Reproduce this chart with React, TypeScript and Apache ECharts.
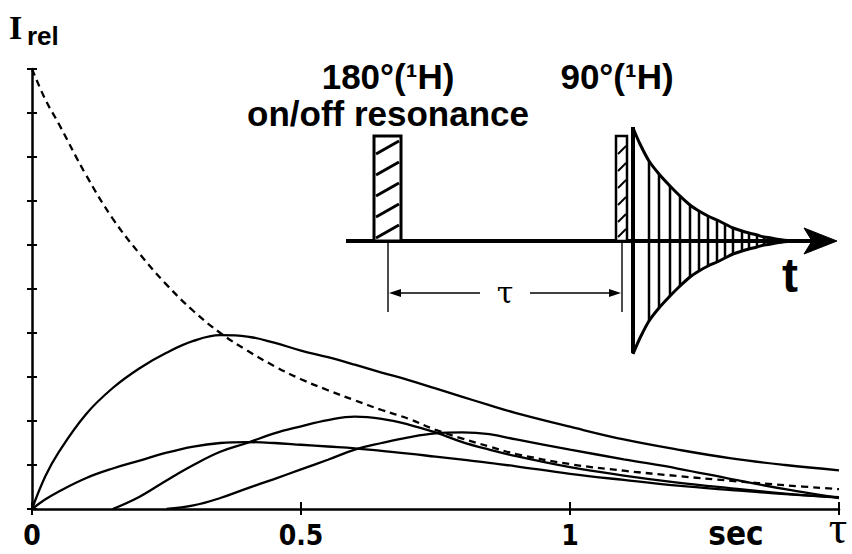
import React, { useEffect, useRef } from 'react';
import * as echarts from 'echarts';

// relaxation delay tau (sec)
const tauSec = [0, 0.025, 0.05, 0.1, 0.15, 0.2, 0.25, 0.3, 0.35, 0.4, 0.45, 0.5, 0.55, 0.6, 0.65, 0.7, 0.75, 0.8, 0.85, 0.9, 1.0, 1.1, 1.2, 1.3, 1.4, 1.5];
// dashed decay curve
const decayDashed = [10, 9.3, 8.75, 7.6, 6.6, 5.8, 5.1, 4.5, 4.0, 3.6, 3.25, 2.95, 2.7, 2.47, 2.25, 2.05, 1.8, 1.6, 1.42, 1.25, 1.02, 0.87, 0.75, 0.64, 0.54, 0.45];
// solid curves
const curveA = [0, 0.75, 1.3, 2.15, 2.75, 3.2, 3.55, 3.82, 3.95, 3.92, 3.78, 3.6, 3.45, 3.28, 3.1, 2.93, 2.74, 2.55, 2.36, 2.18, 1.87, 1.58, 1.35, 1.15, 1.0, 0.88];
const curveB = [0, 0.22, 0.4, 0.7, 0.92, 1.1, 1.28, 1.42, 1.5, 1.52, 1.5, 1.46, 1.42, 1.38, 1.32, 1.26, 1.19, 1.12, 1.05, 0.97, 0.8, 0.66, 0.53, 0.43, 0.34, 0.27];
const curveC = [null, null, null, null, 0, 0.28, 0.65, 1.0, 1.3, 1.5, 1.72, 1.88, 2.02, 2.1, 2.05, 1.92, 1.74, 1.52, 1.35, 1.2, 0.95, 0.76, 0.6, 0.47, 0.35, 0.26];
const curveD = [null, null, null, null, null, null, 0, 0.08, 0.25, 0.47, 0.68, 0.9, 1.12, 1.35, 1.5, 1.63, 1.72, 1.74, 1.7, 1.58, 1.35, 1.13, 0.92, 0.68, 0.45, 0.25];

const xTickLabels: Record<string, string> = { '0': '0', '0.5': '0.5', '1': '1', '1.5': '' };

const pairs = (vals: (number | null)[]) =>
  tauSec.map((t, i) => [t, vals[i]]).filter((p) => p[1] !== null);

const BLACK = '#000';
const ln = (x1: number, y1: number, x2: number, y2: number, w: number) => ({
  type: 'line',
  silent: true,
  shape: { x1, y1, x2, y2 },
  style: { stroke: BLACK, lineWidth: w },
});
const txt = (x: number, y: number, text: string, fontSize: number, fontFamily: string, fontWeight: string, align = 'center') => ({
  type: 'text',
  silent: true,
  x,
  y,
  style: { text, fontSize, fontFamily, fontWeight, fill: BLACK, align, verticalAlign: 'middle' },
});

function buildGraphic() {
  const g: any[] = [];
  const base = 241;
  // axis title I_rel
  g.push(txt(9, 27, 'I', 34, 'Liberation Serif', 'bold', 'left'));
  g.push(txt(27, 36, 'rel', 26, 'Liberation Sans', 'bold', 'left'));
  // x axis end texts
  g.push(txt(736, 533, 'sec', 33, "'Liberation Sans Narrow', 'DejaVu Sans Condensed', sans-serif", 'bold'));
  g.push(txt(838, 527, 'τ', 46, 'Liberation Serif', 'normal'));

  // pulse sequence texts
  g.push(txt(388, 76, '180°(¹H)', 35, 'Liberation Sans', 'bold'));
  g.push(txt(388, 113, 'on/off resonance', 35, 'Liberation Sans', 'bold'));
  g.push(txt(617, 76, '90°(¹H)', 35, 'Liberation Sans', 'bold'));
  g.push(txt(790, 275, 't', 48, 'Liberation Sans', 'bold'));

  // baseline + arrow head
  g.push(ln(346, base, 812, base, 4));
  g.push({
    type: 'polygon',
    silent: true,
    shape: { points: [[837, base], [804, base - 13], [812, base], [804, base + 13]] },
    style: { fill: BLACK, stroke: BLACK, lineWidth: 1 },
  });

  // 180 pulse
  g.push({ type: 'rect', silent: true, shape: { x: 374, y: 136, width: 27, height: base - 136 }, style: { fill: '#fff', stroke: BLACK, lineWidth: 3 } });
  for (let i = 0; i < 5; i++) {
    const y0 = 141 + 21 * i;
    g.push(ln(376, y0 + 13, 399, y0, 3));
  }
  // 90 pulse
  g.push({ type: 'rect', silent: true, shape: { x: 616, y: 136, width: 11, height: base - 136 }, style: { fill: '#fff', stroke: BLACK, lineWidth: 2.5 } });
  [146, 163, 180, 197, 214, 229].forEach((y0) => g.push(ln(618, y0 + 8, 626, y0, 2)));

  // FID
  const fid: [number, number][] = [
    [633, 113], [640, 97], [649, 80], [659, 67], [670, 55], [680, 45], [690, 36], [699, 30], [708, 25],
    [717, 21], [725, 17], [733, 13], [742, 10], [749, 8], [757, 6], [764, 4], [771, 3], [779, 1.5], [792, 0],
  ];
  fid.slice(2, 18).forEach(([x, a]) => g.push(ln(x, base - a, x, base + a, 2.5)));
  g.push(ln(633, base - 114, 633, base + 112, 4));
  g.push({ type: 'polyline', silent: true, shape: { points: fid.map(([x, a]) => [x, base - a]), smooth: 0.3 }, style: { stroke: BLACK, lineWidth: 3, fill: null } });
  g.push({ type: 'polyline', silent: true, shape: { points: fid.map(([x, a]) => [x, base + a]), smooth: 0.3 }, style: { stroke: BLACK, lineWidth: 3, fill: null } });

  // tau marker
  g.push(ln(388, base + 2, 388, 312, 1.4));
  g.push(ln(622, base + 2, 622, 312, 1.4));
  g.push(ln(392, 293, 480, 293, 1.4));
  g.push(ln(530, 293, 618, 293, 1.4));
  g.push({ type: 'polygon', silent: true, shape: { points: [[389, 293], [401, 289], [401, 297]] }, style: { fill: BLACK } });
  g.push({ type: 'polygon', silent: true, shape: { points: [[621, 293], [609, 289], [609, 297]] }, style: { fill: BLACK } });
  g.push(txt(505, 292, 'τ', 30, 'DejaVu Serif', 'normal'));
  return g;
}

export default function App() {
  const ref = useRef<HTMLDivElement>(null);
  useEffect(() => {
    if (!ref.current) return;
    const chart = echarts.init(ref.current, null, { renderer: 'svg' });
    const axisBase = {
      type: 'value',
      splitLine: { show: false },
    };
    const labelFont = "'Liberation Sans Narrow', 'DejaVu Sans Condensed', sans-serif";
    const solid = (name: string, vals: (number | null)[]) => ({
      name,
      type: 'line',
      data: pairs(vals),
      smooth: 0.4,
      showSymbol: false,
      symbol: 'none',
      lineStyle: { color: BLACK, width: 2.3 },
      z: 3,
    });
    chart.setOption({
      animation: false,
      backgroundColor: '#fff',
      grid: { left: 32, right: 13, top: 69, bottom: 45, containLabel: false },
      xAxis: [
        {
          ...axisBase,
          min: 0,
          max: 1.5,
          interval: 0.5,
          position: 'bottom',
          axisLine: { show: true, lineStyle: { color: BLACK, width: 2.5 } },
          axisTick: { show: true, inside: false, length: 6, lineStyle: { color: BLACK, width: 2 } },
          axisLabel: {
            show: true,
            margin: 12,
            color: BLACK,
            fontSize: 28,
            lineHeight: 28,
            fontFamily: labelFont,
            fontWeight: 'bold',
            formatter: (v: number) => xTickLabels[String(v)] ?? '',
          },
        },
        {
          ...axisBase,
          min: 0,
          max: 1.5,
          interval: 0.5,
          position: 'bottom',
          axisLine: { show: false },
          axisTick: { show: true, inside: true, length: 7, lineStyle: { color: BLACK, width: 2 } },
          axisLabel: { show: false },
        },
      ],
      yAxis: [
        {
          ...axisBase,
          min: 0,
          max: 10,
          interval: 1,
          position: 'left',
          axisLine: { show: true, lineStyle: { color: BLACK, width: 2.5 } },
          axisTick: { show: true, inside: false, length: 5, lineStyle: { color: BLACK, width: 2 } },
          axisLabel: { show: false },
        },
        {
          ...axisBase,
          min: 0,
          max: 10,
          interval: 1,
          position: 'left',
          axisLine: { show: false },
          axisTick: { show: true, inside: true, length: 5, lineStyle: { color: BLACK, width: 2 } },
          axisLabel: { show: false },
        },
      ],
      series: [
        {
          name: 'decay',
          type: 'line',
          data: pairs(decayDashed),
          smooth: 0.4,
          showSymbol: false,
          symbol: 'none',
          lineStyle: { color: BLACK, width: 2.3, type: [7, 5] },
          z: 3,
        },
        solid('A', curveA),
        solid('B', curveB),
        solid('C', curveC),
        solid('D', curveD),
      ],
      graphic: buildGraphic(),
    });
    return () => chart.dispose();
  }, []);
  return (
    <div
      ref={ref}
      style={{ position: 'fixed', left: 0, top: 0, width: 852, height: 554, background: '#fff' }}
    />
  );
}
